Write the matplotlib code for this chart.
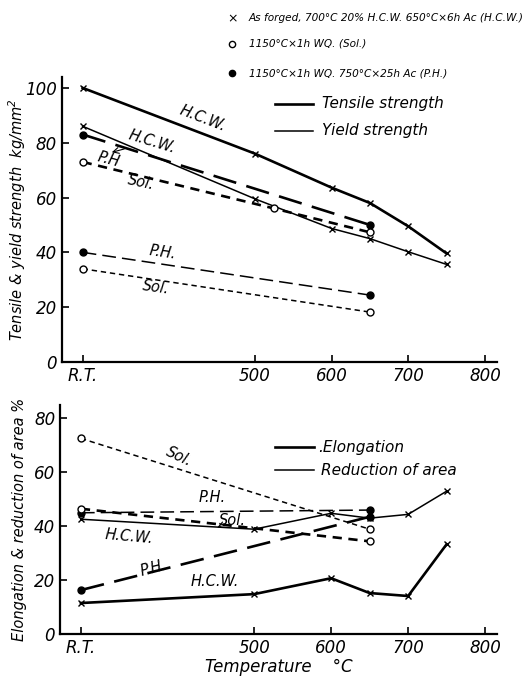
import matplotlib.pyplot as plt

plt.rcParams['font.family'] = ['Liberation Sans Narrow', 'DejaVu Sans Condensed', 'DejaVu Sans']
plt.rcParams['font.style'] = 'italic'

# x positions (R.T. drawn at 275 on the temperature scale)
RT = 275
x_ticks = [RT, 500, 600, 700, 800]
x_ticklabels = ['R.T.', '500', '600', '700', '800']

# Tensile / yield strength, kg/mm2
hcw_x = [RT, 500, 600, 650, 700, 750]
hcw_tensile = [100, 76, 63.6, 58, 49.5, 39.6]
hcw_yield = [86, 59.5, 48.7, 45, 40.2, 35.6]
ph_x = [RT, 650]
ph_tensile = [83, 50]
ph_yield = [40, 24.4]
sol_tx = [RT, 525, 650]
sol_tensile = [73, 56, 47.3]
sol_x = [RT, 650]
sol_yield = [34, 18.2]

# Elongation / reduction of area, %
hcw_elong = [11.5, 14.8, 20.7, 15.2, 14.1, 33.3]
hcw_ra = [42.6, 38.9, 44.8, 43, 44.4, 53]
ph_elong = [16.3, 43.5]
ph_ra = [45, 46]
sol_elong = [46.5, 34.4]
sol_ra = [72.6, 38.9]

LONG = (0, (9, 4))
SHORT = (0, (3.5, 2.5))
THICK = 1.9
THIN = 1.1

fig = plt.figure(figsize=(5.32, 6.84), dpi=100)
ax1 = fig.add_axes([0.1165, 0.4708, 0.818, 0.4167])
ax2 = fig.add_axes([0.113, 0.0731, 0.822, 0.3348])

for ax in (ax1, ax2):
    ax.spines['top'].set_visible(False)
    ax.spines['right'].set_visible(False)
    ax.spines['left'].set_linewidth(1.6)
    ax.spines['bottom'].set_linewidth(1.6)
    ax.tick_params(direction='in', length=5, width=1.2, labelsize=12)
    ax.set_xlim(248, 816)
    ax.set_xticks(x_ticks)
    ax.set_xticklabels(x_ticklabels)

# --- top panel
ax1.set_ylim(0, 104)
ax1.set_yticks([0, 20, 40, 60, 80, 100])
ax1.plot(hcw_x, hcw_tensile, color='k', lw=THICK, marker='x', ms=4, mew=1)
ax1.plot(hcw_x, hcw_yield, color='k', lw=THIN, marker='x', ms=4, mew=1)
ax1.plot(ph_x, ph_tensile, color='k', lw=THICK, ls=LONG, marker='o', ms=5)
ax1.plot(ph_x, ph_yield, color='k', lw=THIN, ls=LONG, marker='o', ms=5)
ax1.plot(sol_tx, sol_tensile, color='k', lw=THICK, ls=SHORT, marker='o', ms=5, mfc='white')
ax1.plot(sol_x, sol_yield, color='k', lw=THIN, ls=SHORT, marker='o', ms=5, mfc='white')
ax1.set_ylabel('Tensile & yield strength  kg/mm$^2$', fontsize=10.5)
ax1.yaxis.set_label_coords(-0.078, 0.5)

ax1.plot([526, 575], [94.2, 94.2], color='k', lw=THICK)
ax1.text(587, 94.2, 'Tensile strength', fontsize=11, va='center')
ax1.plot([526, 575], [84.4, 84.4], color='k', lw=THIN)
ax1.text(587, 84.4, 'Yield strength', fontsize=11, va='center')

ax1.text(432, 88.7, 'H.C.W.', fontsize=10.5, rotation=-21, ha='center', va='center')
ax1.annotate('H.C.W.', xy=(313, 76.5), xytext=(366, 80.5), fontsize=10.5, rotation=-17,
             ha='center', va='center',
             arrowprops=dict(arrowstyle='->', lw=0.8, color='k', shrinkA=12, shrinkB=0))
ax1.text(309, 74, 'P.H', fontsize=10.5, rotation=-15, ha='center', va='center')
ax1.text(351, 65.5, 'Sol.', fontsize=10.5, rotation=-12, ha='center', va='center')
ax1.text(379, 40, 'P.H.', fontsize=10.5, rotation=-8, ha='center', va='center')
ax1.text(370, 27.3, 'Sol.', fontsize=10.5, rotation=-8, ha='center', va='center')

# --- bottom panel
ax2.set_ylim(0, 85)
ax2.set_yticks([0, 20, 40, 60, 80])
ax2.plot(hcw_x, hcw_elong, color='k', lw=THICK, marker='x', ms=4, mew=1)
ax2.plot(hcw_x, hcw_ra, color='k', lw=THIN, marker='x', ms=4, mew=1)
ax2.plot(ph_x, ph_elong, color='k', lw=THICK, ls=LONG, marker='o', ms=5)
ax2.plot(ph_x, ph_ra, color='k', lw=THIN, ls=LONG, marker='o', ms=5)
ax2.plot(sol_x, sol_elong, color='k', lw=THICK, ls=SHORT, marker='o', ms=5, mfc='white')
ax2.plot(sol_x, sol_ra, color='k', lw=THIN, ls=SHORT, marker='o', ms=5, mfc='white')
ax2.set_ylabel('Elongation & reduction of area %', fontsize=10.5)
ax2.yaxis.set_label_coords(-0.075, 0.5)
ax2.set_xlabel('Temperature    °C', fontsize=12, labelpad=1)

ax2.plot([527, 578], [69.3, 69.3], color='k', lw=THICK)
ax2.text(583, 69.3, '.Elongation', fontsize=11, va='center')
ax2.plot([527, 578], [60.7, 60.7], color='k', lw=THIN)
ax2.text(587, 60.7, 'Reduction of area', fontsize=11, va='center')

ax2.text(403, 66, 'Sol.', fontsize=10.5, rotation=-25, ha='center', va='center')
ax2.text(445, 50.5, 'P.H.', fontsize=10.5, ha='center', va='center')
ax2.annotate('Sol.', xy=(452, 39.5), xytext=(472, 42), fontsize=10.5,
             ha='center', va='center',
             arrowprops=dict(arrowstyle='->', lw=0.8, color='k', shrinkA=9, shrinkB=0))
ax2.text(337, 36.3, 'H.C.W.', fontsize=10.5, rotation=-5, ha='center', va='center')
ax2.text(369, 24.4, 'P.H.', fontsize=10.5, rotation=15, ha='center', va='center')
ax2.text(449, 19.5, 'H.C.W.', fontsize=10.5, ha='center', va='center')

# header key
fig.text(0.428, 0.973, '×', fontsize=9, va='center', style='normal')
fig.text(0.468, 0.973, 'As forged, 700°C 20% H.C.W. 650°C×6h Ac (H.C.W.)', fontsize=7.6, va='center')
ax1.plot([0.436], [0.936], transform=fig.transFigure, marker='o', ms=4.5, mfc='white',
         color='k', clip_on=False)
fig.text(0.468, 0.936, '1150°C×1h WQ. (Sol.)', fontsize=7.6, va='center')
ax1.plot([0.436], [0.893], transform=fig.transFigure, marker='o', ms=4.5,
         color='k', clip_on=False)
fig.text(0.468, 0.893, '1150°C×1h WQ. 750°C×25h Ac (P.H.)', fontsize=7.6, va='center')

fig.savefig('out.png', dpi=100)
